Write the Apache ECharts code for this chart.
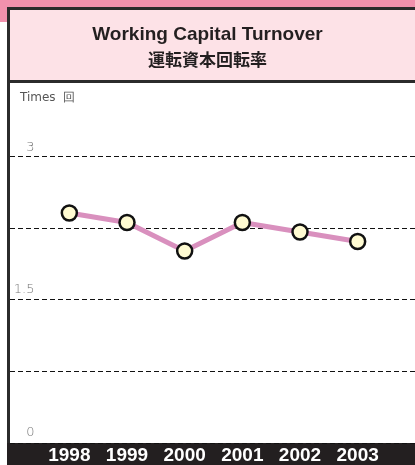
<!DOCTYPE html>
<html>
<head>
<meta charset="utf-8">
<script src="https://cdn.jsdelivr.net/npm/echarts@6/dist/echarts.min.js"></script>
<style>
  html, body { margin: 0; padding: 0; background: #fff; }
  #chart { width: 415px; height: 465px; }
</style>
</head>
<body>
<div id="chart"></div>
<script>
// data
var years = ['1998', '1999', '2000', '2001', '2002', '2003'];
var turnover = [2.40, 2.30, 2.00, 2.30, 2.20, 2.10];
var yMin = 0, yMax = 3, yStep = 0.75;
var shownTicks = [0, 1.5, 3];

var dark = '#231f20';
var myChart = echarts.init(document.getElementById('chart'));
myChart.setOption({
    backgroundColor: '#ffffff',
    animation: false,
    graphic: {
        elements: [
            { type: 'rect', z: -5, shape: { x: 0, y: 0, width: 415, height: 8 }, style: { fill: '#f291ad' } },
            { type: 'rect', z: -5, shape: { x: 0, y: 0, width: 8, height: 22 }, style: { fill: '#f291ad' } },
            { type: 'rect', z: -5, shape: { x: 10, y: 10, width: 405, height: 70 }, style: { fill: '#fde2e7' } },
            { type: 'rect', z: -4, shape: { x: 7, y: 7, width: 408, height: 3 }, style: { fill: '#2b2b2b' } },
            { type: 'rect', z: -4, shape: { x: 7, y: 7, width: 3, height: 458 }, style: { fill: '#2b2b2b' } },
            { type: 'rect', z: -4, shape: { x: 7, y: 80, width: 408, height: 3 }, style: { fill: '#2b2b2b' } },
            { type: 'rect', z: -4, shape: { x: 7, y: 443, width: 408, height: 22 }, style: { fill: dark } },
            { type: 'text', left: 'center', top: 25, style: { text: 'Working Capital Turnover', fill: dark, font: 'bold 19px "Liberation Sans", sans-serif' } },
            { type: 'text', left: 'center', top: 51, style: { text: '運転資本回転率', fill: dark, font: 'bold 17px "Noto Sans CJK JP", sans-serif' } },
            { type: 'text', left: 20, top: 92, style: { text: 'Times  回', fill: '#555', font: '12px "DejaVu Sans", sans-serif' } }
        ]
    },
    grid: [
        { left: 40.5, right: 28.5, top: 156, bottom: 22 },
        { left: 10, right: 0, top: 156, bottom: 22 }
    ],
    xAxis: [
        {
            type: 'category', data: years, gridIndex: 0, boundaryGap: true,
            axisLine: { show: false }, axisTick: { show: false },
            axisLabel: { color: '#fff', fontWeight: 'bold', fontSize: 19, margin: 5, fontFamily: 'Liberation Sans' }
        },
        { type: 'value', gridIndex: 1, min: 0, max: 1, show: false }
    ],
    yAxis: [
        {
            type: 'value', gridIndex: 0, min: yMin, max: yMax, interval: yStep,
            axisLine: { show: false }, axisTick: { show: false }, splitLine: { show: false },
            axisLabel: {
                margin: 6, color: '#777', fontSize: 13, verticalAlign: 'bottom',
                fontFamily: 'DejaVu Sans', fontWeight: 'lighter', padding: [0, 0, 2, 0],
                formatter: function (v) { return shownTicks.indexOf(v) >= 0 ? String(v) : ''; }
            }
        },
        {
            type: 'value', gridIndex: 1, min: yMin, max: yMax, interval: yStep,
            axisLine: { show: false }, axisTick: { show: false }, axisLabel: { show: false },
            splitLine: { show: true, lineStyle: { color: '#111', type: [5, 3], width: 1 } }
        }
    ],
    series: [{
        type: 'line', data: turnover, xAxisIndex: 0, yAxisIndex: 0,
        symbol: 'circle', symbolSize: 15,
        lineStyle: { color: '#d990be', width: 5 },
        itemStyle: { color: '#fffbd2', borderColor: '#111', borderWidth: 2.5 }
    }]
});
</script>
</body>
</html>
